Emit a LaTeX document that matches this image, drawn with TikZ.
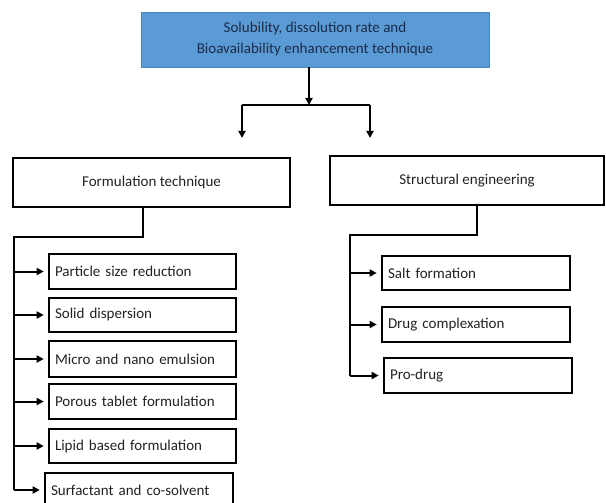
\documentclass[tikz,border=0pt]{standalone}
\usepackage{fontspec}
\setmainfont{Carlito}
\usetikzlibrary{arrows.meta}
\definecolor{topfill}{HTML}{5B9BD5}
\definecolor{topdraw}{HTML}{4A86C0}
\definecolor{toptext}{HTML}{1B2A48}
\definecolor{txt}{HTML}{222222}
\tikzset{
  topbox/.style={rectangle, fill=topfill, draw=topdraw, line width=0.6pt, inner sep=0pt,
    align=center, text=toptext, font=\fontsize{15}{21}\selectfont},
  headbox/.style={rectangle, draw=black, line width=2.6pt, inner sep=0pt,
    text=txt, font=\fontsize{15}{18}\selectfont},
  itembox/.style={rectangle, draw=black, line width=2.6pt, inner ysep=0pt, inner xsep=6pt,
    align=left, text=txt, font=\fontsize{15}{18}\selectfont},
  conn/.style={draw=black, line width=2pt},
  arr/.style={conn, -{Triangle[length=7pt,width=7pt]}},
  itemarr/.style={arr, shorten >=4pt}
}
\begin{document}
\begin{tikzpicture}[x=1pt,y=-1pt]
\useasboundingbox (0,0) rectangle (606,503);
% top
\node[topbox, minimum width=348pt, minimum height=55pt] (top) at (315,39.5)
  {Solubility, dissolution rate and\\Bioavailability enhancement technique};
% heads
\node[headbox, minimum width=277pt, minimum height=49pt] (form) at (151.5,182.5) {Formulation technique};
\node[headbox, minimum width=274pt, minimum height=49pt] (str) at (467,180.5) {Structural engineering};
% left items
\node[itembox, text width=175pt, minimum height=35pt] (p1) at (142.5,271.5) {Particle size reduction};
\node[itembox, text width=175pt, minimum height=34pt] (p2) at (142.5,315) {Solid dispersion};
\node[itembox, text width=175pt, minimum height=36pt] (p3) at (142.5,359) {Micro and nano emulsion};
\node[itembox, text width=175pt, minimum height=35pt] (p4) at (142.5,401.5) {Porous tablet formulation};
\node[itembox, text width=175pt, minimum height=34pt] (p5) at (142.5,446) {Lipid based formulation};
\node[itembox, text width=176pt, minimum height=34pt] (p6) at (139,490) {Surfactant and co-solvent};
% right items
\node[itembox, text width=176pt, minimum height=34pt] (s1) at (476,273) {Salt formation};
\node[itembox, text width=176pt, minimum height=35pt] (s2) at (476,324.5) {Drug complexation};
\node[itembox, text width=176pt, minimum height=35pt] (s3) at (478,375.5) {Pro-drug};
% top connectors
\coordinate (j) at (309,105);
\coordinate (jl) at (242,105);
\coordinate (jr) at (370,105);
\coordinate (el) at (242,138);
\coordinate (er) at (370,138);
\draw[arr] (top.south -| j) -- (j);
\draw[conn] (jl) -- (jr);
\draw[arr] (jl) -- (el);
\draw[arr] (jr) -- (er);
% left tree
\coordinate (lb) at (143,237);
\coordinate (lt) at (14,237);
\draw[conn] (form.south -| lb) -- (lb) -- (lt) -- (lt |- p6.west);
\foreach \n in {p1,p2,p3,p4,p5,p6} \draw[itemarr] (lt |- \n.west) -- (\n.west);
% right tree
\coordinate (rb) at (477,235);
\coordinate (rt) at (350,235);
\draw[conn] (str.south -| rb) -- (rb) -- (rt) -- (rt |- s3.west);
\foreach \n in {s1,s2,s3} \draw[itemarr] (rt |- \n.west) -- (\n.west);
\end{tikzpicture}
\end{document}
